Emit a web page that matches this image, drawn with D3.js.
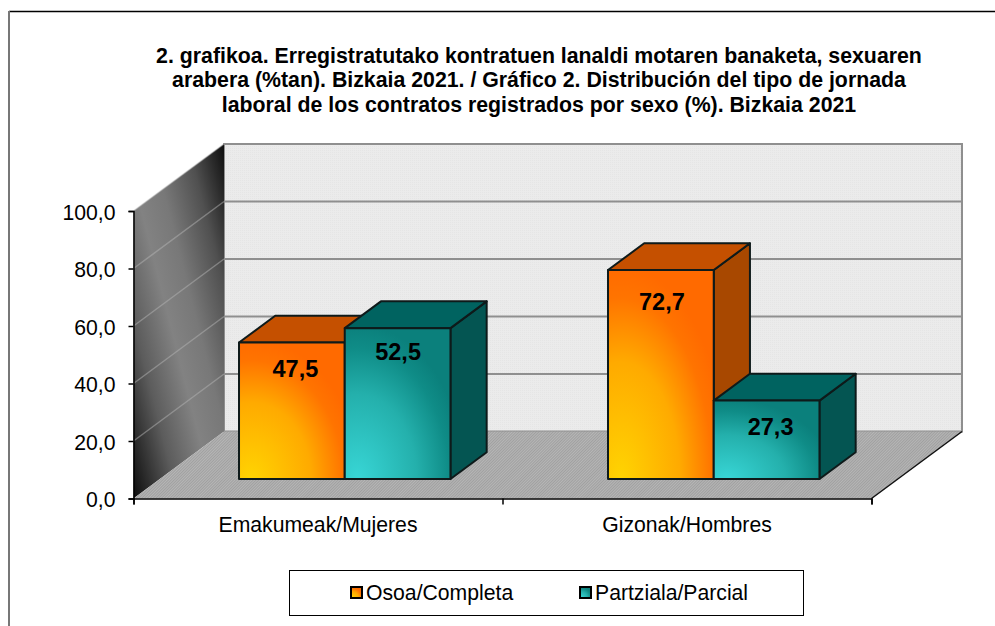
<!DOCTYPE html>
<html lang="eu">
<head>
  <meta charset="UTF-8">
  <title>2. grafikoa</title>
  <script src="https://d3js.org/d3.v7.min.js"></script>
  <style>
    html, body {margin: 0; padding: 0; background: #fff; overflow: hidden;}
    svg {display: block;}
    text {font-family: "Liberation Sans", Arial, sans-serif; fill: #000;}
    .axis text {font-size: 21.2px;}
    .axis path, .axis line {stroke: #000; stroke-width: 1.5px;}
  </style>
</head>
<body>
  <div id="chart"></div>
  <script>
    const titleLines = [
      "2. grafikoa. Erregistratutako kontratuen lanaldi motaren banaketa, sexuaren",
      "arabera (%tan). Bizkaia 2021. / Gráfico 2. Distribución del tipo de jornada",
      "laboral de los contratos registrados por sexo (%). Bizkaia 2021"
    ];
    const categories = ["Emakumeak/Mujeres", "Gizonak/Hombres"];
    const seriesNames = ["Osoa/Completa", "Partziala/Parcial"];
    const osoa = [47.5, 72.7];
    const partziala = [52.5, 27.3];
    const yTicks = [0, 20, 40, 60, 80, 100];

    const width = 995, height = 626;
    const svg = d3.select("#chart").append("svg")
      .attr("width", width).attr("height", height);
    const defs = svg.append("defs");

    // front plane scales, depth goes from 0 (front) to 1 (back wall)
    const x = d3.scaleBand().domain(categories).range([133.5, 871.5]);
    const y = d3.scaleLinear().domain([0, 100]).range([498.5, 211]);
    const depthX = d3.scaleLinear().domain([0, 1]).range([0, 90.5]);
    const depthY = d3.scaleLinear().domain([0, 1]).range([0, -67]);
    const barX = d3.scaleBand().domain(seriesNames)
      .range([0, x.bandwidth()]).paddingInner(0).paddingOuter(0.745);

    const barFront = 0.29, barBack = 0.69;

    const pt = (px, v, d) => [px + depthX(d), y(v) + depthY(d)];
    const poly = pts => "M" + pts.map(p => p.join(",")).join("L") + "Z";

    function radial(id, stops) {
      const g = defs.append("radialGradient").attr("id", id)
        .attr("cx", 0.12).attr("cy", 1).attr("r", 1.02);
      stops.forEach(s => g.append("stop").attr("offset", s[0]).attr("stop-color", s[1]));
    }
    radial("gradOrange", [[0, "#ffd402"], [0.55, "#ffaa00"], [0.85, "#ff7400"], [1, "#ff6a00"]]);
    radial("gradTeal", [[0, "#38d6d6"], [0.55, "#24b0ac"], [0.85, "#0f8c87"], [1, "#0b807c"]]);

    const wallGrad = defs.append("linearGradient").attr("id", "gradWall")
      .attr("x1", 0).attr("y1", 1).attr("x2", 1).attr("y2", 0);
    [[0, "#0c0c0c"], [0.25, "#5c5c5c"], [0.45, "#828282"], [0.6, "#787878"], [0.8, "#505050"], [1, "#0e0e0e"]]
      .forEach(s => wallGrad.append("stop").attr("offset", s[0]).attr("stop-color", s[1]));

    const wallPat = defs.append("pattern").attr("id", "patWall")
      .attr("width", 2).attr("height", 2).attr("patternUnits", "userSpaceOnUse");
    wallPat.append("rect").attr("width", 2).attr("height", 2).attr("fill", "#ebebeb");
    wallPat.append("rect").attr("width", 1).attr("height", 1).attr("fill", "#e5e5e5");

    const floorPat = defs.append("pattern").attr("id", "patFloor")
      .attr("width", 2).attr("height", 2).attr("patternUnits", "userSpaceOnUse")
      .attr("patternTransform", "rotate(45)");
    floorPat.append("rect").attr("width", 2).attr("height", 2).attr("fill", "#b6b6b6");
    floorPat.append("rect").attr("width", 1).attr("height", 2).attr("fill", "#a0a0a0");

    // outer frame, runs off the picture on the right and at the bottom
    svg.append("line").attr("x1", 9).attr("x2", width).attr("y1", 11.5).attr("y2", 11.5)
      .attr("stroke", "#000").attr("stroke-width", 1.5);
    svg.append("line").attr("x1", 9).attr("x2", 9).attr("y1", 11).attr("y2", height)
      .attr("stroke", "#777").attr("stroke-width", 2);

    // title
    svg.append("g").selectAll("text").data(titleLines).join("text")
      .attr("x", 539).attr("y", (d, i) => 62.5 + i * 24.5)
      .attr("text-anchor", "middle")
      .attr("font-size", 21.3).attr("font-weight", "bold")
      .text(d => d);

    const x0 = x.range()[0], x1 = x.range()[1];

    // back wall and its gridlines
    svg.append("path")
      .attr("d", poly([pt(x0, 0, 1), pt(x1, 0, 1), pt(x1, 100, 1), pt(x0, 100, 1)]))
      .attr("fill", "url(#patWall)").attr("stroke", "#8f8f8f").attr("stroke-width", 2);
    svg.append("g").selectAll("line").data(yTicks.slice(1, -1)).join("line")
      .attr("x1", pt(x0, 0, 1)[0]).attr("x2", pt(x1, 0, 1)[0])
      .attr("y1", d => pt(x0, d, 1)[1]).attr("y2", d => pt(x0, d, 1)[1])
      .attr("stroke", "#8f8f8f").attr("stroke-width", 2);

    // side wall
    svg.append("path")
      .attr("d", poly([pt(x0, 0, 0), pt(x0, 0, 1), pt(x0, 100, 1), pt(x0, 100, 0)]))
      .attr("fill", "url(#gradWall)");
    svg.append("g").selectAll("line").data(yTicks.slice(1)).join("line")
      .attr("x1", pt(x0, 0, 0)[0]).attr("x2", pt(x0, 0, 1)[0])
      .attr("y1", d => pt(x0, d, 0)[1]).attr("y2", d => pt(x0, d, 1)[1])
      .attr("stroke", "#b4b4b4").attr("stroke-width", 1.5).attr("stroke-opacity", 0.5);

    // floor
    svg.append("path")
      .attr("d", poly([pt(x0, 0, 0), pt(x1, 0, 0), pt(x1, 0, 1), pt(x0, 0, 1)]))
      .attr("fill", "url(#patFloor)");
    svg.append("line")
      .attr("x1", pt(x1, 0, 0)[0]).attr("y1", pt(x1, 0, 0)[1])
      .attr("x2", pt(x1, 0, 1)[0]).attr("y2", pt(x1, 0, 1)[1])
      .attr("stroke", "#111").attr("stroke-width", 1.5);

    // bars, hand placed labels in the original so each has its own nudge
    const bars = [];
    categories.forEach((c, i) => {
      bars.push({cat: c, name: seriesNames[0], value: osoa[i], front: "url(#gradOrange)", top: "#c55000", side: "#a84800"});
      bars.push({cat: c, name: seriesNames[1], value: partziala[i], front: "url(#gradTeal)", top: "#006360", side: "#045552"});
    });
    const labelNudge = [[3.5, 34.5], [0.5, 32], [1, 40], [4, 34]];

    const barG = svg.append("g").selectAll("g")
      .data(bars)
      .join("g")
      .attr("stroke", "#0e1a1a").attr("stroke-width", 2).attr("stroke-linejoin", "round");

    const left = d => x(d.cat) + barX(d.name) + 0.5;
    const right = d => left(d) + barX.bandwidth();

    barG.append("path").attr("fill", d => d.side).attr("d", d => poly([
      pt(right(d), 0, barFront), pt(right(d), 0, barBack),
      pt(right(d), d.value, barBack), pt(right(d), d.value, barFront)]));
    barG.append("path").attr("fill", d => d.top).attr("d", d => poly([
      pt(left(d), d.value, barFront), pt(right(d), d.value, barFront),
      pt(right(d), d.value, barBack), pt(left(d), d.value, barBack)]));
    barG.append("path").attr("fill", d => d.front).attr("d", d => poly([
      pt(left(d), 0, barFront), pt(right(d), 0, barFront),
      pt(right(d), d.value, barFront), pt(left(d), d.value, barFront)]));

    const fmt = v => v.toFixed(1).replace(".", ",");
    svg.append("g").selectAll("text").data(bars).join("text")
      .attr("x", (d, i) => left(d) + barX.bandwidth() / 2 + depthX(barFront) + labelNudge[i][0])
      .attr("y", (d, i) => y(d.value) + depthY(barFront) + labelNudge[i][1])
      .attr("text-anchor", "middle")
      .attr("font-size", 23.5).attr("font-weight", "bold")
      .text(d => fmt(d.value));

    // axes
    const yAxis = svg.append("g").attr("class", "axis")
      .attr("transform", `translate(${x0},0)`)
      .call(d3.axisLeft(y).tickValues(yTicks).tickSize(5).tickPadding(13).tickFormat(fmt));
    yAxis.select(".domain").attr("stroke-width", 2);
    yAxis.selectAll("text").attr("dy", "0.4em");

    const xEdges = d3.scalePoint().domain([0, 1, 2]).range(x.range());
    svg.append("g")
      .attr("class", "axis")
      .attr("transform", `translate(0,${y(0)})`)
      .call(d3.axisBottom(xEdges).tickSize(6).tickFormat(""))
      .select(".domain").attr("stroke-width", 2);
    svg.append("g").attr("class", "axis").selectAll("text").data(categories).join("text")
      .attr("x", d => x(d) + x.bandwidth() / 2)
      .attr("y", 532)
      .attr("text-anchor", "middle")
      .text(d => d);

    // legend
    const legend = svg.append("g");
    legend.append("rect").attr("x", 289.5).attr("y", 570.5).attr("width", 514).attr("height", 45)
      .attr("fill", "#fff").attr("stroke", "#000").attr("stroke-width", 1);
    const legendX = d3.scaleOrdinal().domain(seriesNames).range([351, 580]);
    const legendFill = d3.scaleOrdinal().domain(seriesNames).range(["url(#gradOrange)", "url(#gradTeal)"]);
    const item = legend.selectAll("g").data(seriesNames).join("g")
      .attr("transform", d => `translate(${legendX(d)},587)`);
    item.append("rect").attr("width", 11).attr("height", 11)
      .attr("fill", d => legendFill(d)).attr("stroke", "#000").attr("stroke-width", 2);
    item.append("text").attr("x", 15).attr("y", 13).attr("font-size", 21.2).text(d => d);
  </script>
</body>
</html>
